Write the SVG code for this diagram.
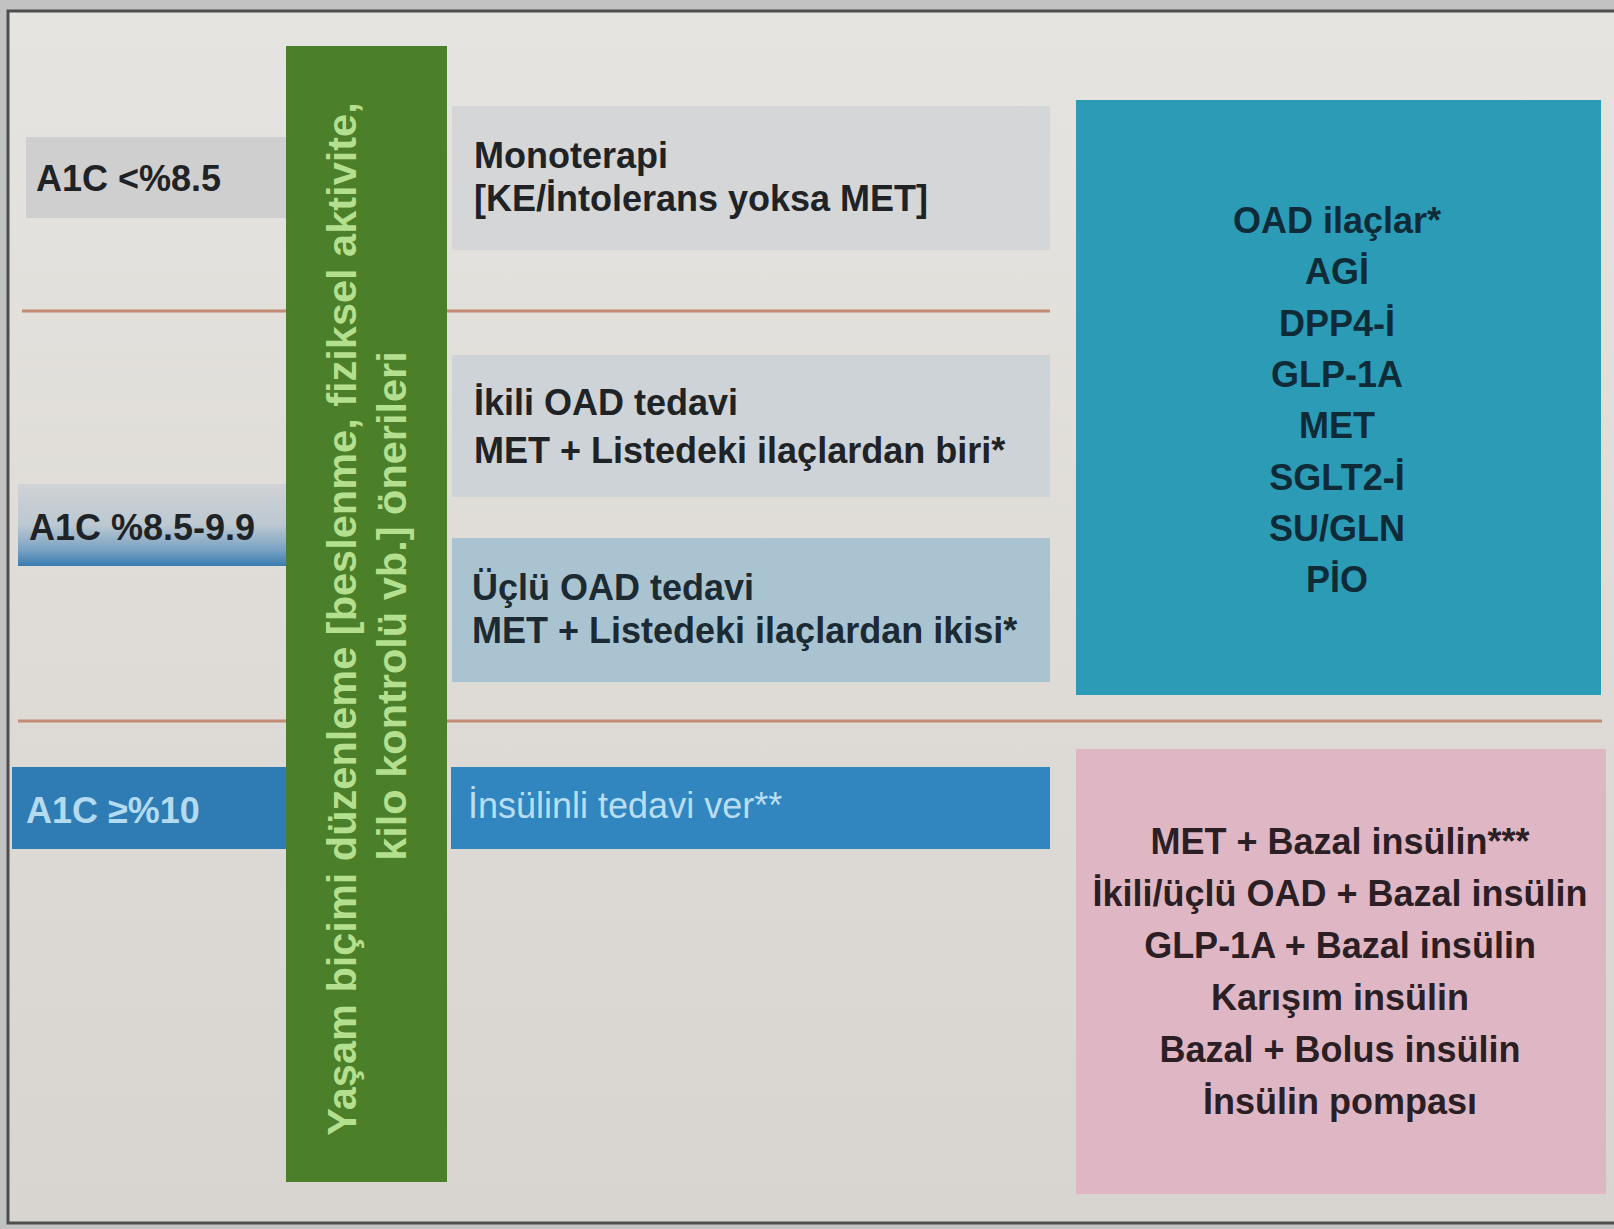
<svg xmlns="http://www.w3.org/2000/svg" width="1614" height="1229" viewBox="0 0 1614 1229">
  <defs>
    <linearGradient id="bg" x1="0" y1="0" x2="0" y2="1">
      <stop offset="0" stop-color="#e6e4e0"/>
      <stop offset="1" stop-color="#d8d4cf"/>
    </linearGradient>
    <linearGradient id="midGrad" x1="0" y1="0" x2="0" y2="1">
      <stop offset="0" stop-color="#d0d3d5"/>
      <stop offset="0.5" stop-color="#bcc8d1"/>
      <stop offset="0.8" stop-color="#7aa3c4"/>
      <stop offset="1" stop-color="#3a7cb1"/>
    </linearGradient>
    <style>
      .t { font-family: "Liberation Sans", Arial, sans-serif; font-weight: bold; font-size: 36px; }
      .dark { fill: #1f2326; }
      .teal-t { fill: #0f2b38; text-anchor: middle; }
      .pink-t { fill: #2b1f25; text-anchor: middle; }
      .light { fill: #b4daf0; }
      .green-t { font-family: "Liberation Sans", Arial, sans-serif; font-weight: bold; font-size: 41.5px; fill: #b3df8e; text-anchor: middle; }
      .sep { stroke: #c48a74; stroke-width: 3; fill: none; }
    </style>
  </defs>

  <rect x="0" y="0" width="1614" height="1229" fill="#c2c2c2"/>
  <rect x="8" y="11" width="1620" height="1212" fill="url(#bg)" stroke="#4e4e4e" stroke-width="3"/>

  <g id="dividers">
    <line class="sep" x1="22" y1="311" x2="1050" y2="311"/>
    <line class="sep" x1="18" y1="721" x2="1602" y2="721"/>
  </g>

  <g id="label-a1c-low">
    <rect x="26" y="137" width="262" height="81" fill="#cfcfd0"/>
    <text class="t dark" x="36" y="191">A1C &lt;%8.5</text>
  </g>

  <g id="label-a1c-mid">
    <rect x="18" y="484" width="270" height="82" fill="url(#midGrad)"/>
    <text class="t dark" x="29" y="540">A1C %8.5-9.9</text>
  </g>

  <g id="label-a1c-high">
    <rect x="12" y="767" width="276" height="82" fill="#2f7cb4"/>
    <text class="t light" x="26" y="823">A1C ≥%10</text>
  </g>

  <g id="lifestyle">
    <rect x="286" y="46" width="161" height="1136" fill="#4c7f29"/>
    <text class="green-t" transform="translate(356,619) rotate(-90)">Yaşam biçimi düzenleme [beslenme, fiziksel aktivite,</text>
    <text class="green-t" transform="translate(406,606) rotate(-90)">kilo kontrolü vb.] önerileri</text>
  </g>

  <g id="monoterapi">
    <rect x="452" y="106" width="598" height="144" fill="#d4d6d7"/>
    <text class="t dark" x="474" y="168">Monoterapi</text>
    <text class="t dark" x="474" y="211">[KE/İntolerans yoksa MET]</text>
  </g>

  <g id="ikili">
    <rect x="452" y="355" width="598" height="142" fill="#cdd3d6"/>
    <text class="t dark" x="474" y="415">İkili OAD tedavi</text>
    <text class="t dark" x="474" y="463">MET + Listedeki ilaçlardan biri*</text>
  </g>

  <g id="uclu">
    <rect x="452" y="538" width="598" height="144" fill="#a9c4d0"/>
    <text class="t" x="472" y="600" fill="#1c2a33">Üçlü OAD tedavi</text>
    <text class="t" x="472" y="643" fill="#1c2a33">MET + Listedeki ilaçlardan ikisi*</text>
  </g>

  <g id="insulinli">
    <rect x="451" y="767" width="599" height="82" fill="#3286bf"/>
    <text x="468" y="818" font-family="Liberation Sans, Arial, sans-serif" font-size="36" fill="#b9def2">İnsülinli tedavi ver**</text>
  </g>

  <g id="oad-list">
    <rect x="1076" y="100" width="525" height="595" fill="#2c9bb6"/>
    <text class="t teal-t" x="1337" y="233">OAD ilaçlar*</text>
    <text class="t teal-t" x="1337" y="284">AGİ</text>
    <text class="t teal-t" x="1337" y="336">DPP4-İ</text>
    <text class="t teal-t" x="1337" y="387">GLP-1A</text>
    <text class="t teal-t" x="1337" y="438">MET</text>
    <text class="t teal-t" x="1337" y="490">SGLT2-İ</text>
    <text class="t teal-t" x="1337" y="541">SU/GLN</text>
    <text class="t teal-t" x="1337" y="592">PİO</text>
  </g>

  <g id="insulin-list">
    <rect x="1076" y="749" width="530" height="445" fill="#dfb7c4"/>
    <text class="t pink-t" x="1340" y="854">MET + Bazal insülin***</text>
    <text class="t pink-t" x="1340" y="906">İkili/üçlü OAD + Bazal insülin</text>
    <text class="t pink-t" x="1340" y="958">GLP-1A + Bazal insülin</text>
    <text class="t pink-t" x="1340" y="1010">Karışım insülin</text>
    <text class="t pink-t" x="1340" y="1062">Bazal + Bolus insülin</text>
    <text class="t pink-t" x="1340" y="1114">İnsülin pompası</text>
  </g>
</svg>
